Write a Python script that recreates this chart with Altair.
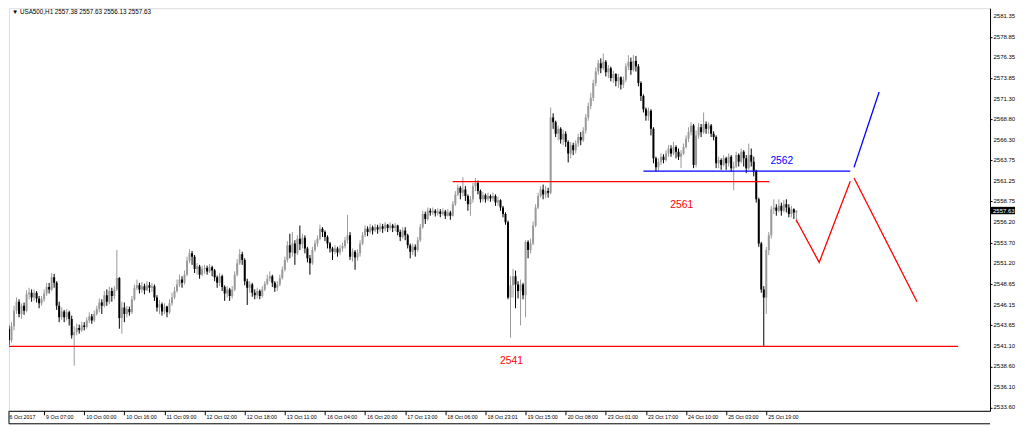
import json
import altair as alt
import pandas as pd

# ---------------- data ----------------
first_open = 2546.0
closes = [
    2542.0, 2543.2, 2541.8, 2543.5, 2545.4, 2546.5, 2545.0, 2546.0, 2545.4, 2547.4,
    2547.6, 2547.0, 2547.6, 2546.9, 2546.3, 2546.8, 2547.5, 2548.3, 2548.0, 2549.5,
    2548.8, 2546.0, 2544.6, 2545.3, 2544.6, 2545.2, 2544.4, 2542.4, 2542.8, 2543.3,
    2543.0, 2543.6, 2543.4, 2544.2, 2544.7, 2544.2, 2545.0, 2545.6, 2546.4, 2546.0,
    2547.3, 2546.5, 2547.8, 2547.2, 2548.0, 2549.4, 2544.5, 2545.8, 2545.0, 2545.6,
    2545.2, 2546.8, 2548.2, 2548.5, 2548.0, 2548.4, 2547.9, 2548.5, 2548.2, 2548.4,
    2547.0, 2545.8, 2546.2, 2545.3, 2545.9, 2545.2, 2546.3, 2547.0, 2547.8, 2548.6,
    2549.2, 2548.8, 2549.8, 2551.5, 2552.4, 2552.0, 2550.5, 2550.8, 2549.8, 2550.5,
    2550.6, 2550.2, 2550.7, 2550.3, 2549.5, 2548.8, 2549.6, 2548.3, 2547.5, 2548.0,
    2547.2, 2548.0, 2549.8, 2551.2, 2552.3, 2551.6, 2549.0, 2548.2, 2548.6, 2547.6,
    2547.3, 2547.8, 2547.2, 2548.0, 2548.7, 2549.3, 2549.6, 2548.8, 2548.2, 2548.6,
    2549.4, 2550.4, 2551.6, 2553.4, 2552.5, 2553.6, 2552.4, 2554.2, 2553.5, 2554.3,
    2553.0, 2551.8, 2551.2, 2552.8, 2553.6, 2554.2, 2555.4, 2555.0, 2554.4, 2553.6,
    2553.0, 2552.6, 2553.0, 2552.5, 2553.0, 2553.3, 2554.0, 2554.6, 2552.0, 2552.6,
    2551.9, 2552.4, 2553.6, 2554.6, 2555.4, 2555.0, 2555.6, 2555.2, 2555.6, 2555.3,
    2555.7, 2555.4, 2555.9, 2555.5, 2555.8, 2555.5, 2555.8, 2555.0, 2554.4, 2555.2,
    2554.6, 2553.4, 2552.6, 2553.2, 2552.8, 2554.0, 2555.6, 2557.2, 2556.6, 2557.6,
    2557.4, 2557.6, 2557.3, 2557.5, 2557.2, 2557.5, 2557.0, 2557.4, 2557.0, 2558.4,
    2559.6, 2560.4, 2559.8, 2560.2, 2559.4, 2558.4, 2559.0, 2560.6, 2561.0, 2560.0,
    2559.0, 2559.5, 2559.0, 2559.4, 2559.1, 2559.4, 2558.6, 2558.9, 2558.0, 2557.2,
    2556.2, 2547.0, 2548.5, 2549.6, 2548.6, 2547.8, 2548.6, 2547.3, 2553.8, 2552.8,
    2553.6, 2555.8, 2558.0, 2559.4, 2560.2, 2559.6, 2560.0, 2559.8, 2569.0, 2568.4,
    2567.0, 2567.6, 2566.3, 2567.0, 2566.0, 2564.6, 2565.6, 2565.0, 2565.8, 2566.6,
    2566.2, 2567.4, 2569.0, 2570.4, 2571.4, 2573.2, 2574.6, 2575.6, 2575.0, 2575.8,
    2574.5, 2575.0, 2573.8, 2574.3, 2573.4, 2573.9, 2573.0, 2573.6, 2575.2, 2575.8,
    2574.8, 2575.9, 2575.2, 2573.2, 2571.6, 2570.0, 2569.2, 2569.8, 2567.6, 2564.0,
    2562.9, 2563.6, 2564.2, 2563.8, 2564.6, 2565.2, 2564.6, 2565.4, 2564.8, 2564.2,
    2564.6, 2565.4, 2566.4, 2567.2, 2568.0, 2563.2, 2566.8, 2567.8, 2567.2, 2568.2,
    2567.6, 2568.0, 2567.0, 2566.6, 2563.4, 2563.8, 2563.2, 2564.0, 2563.4, 2564.2,
    2562.8, 2563.0, 2564.4, 2563.6, 2564.8, 2564.0, 2562.8, 2564.4, 2563.6, 2562.5,
    2559.0, 2553.6, 2548.0, 2547.0, 2552.8, 2554.6, 2557.8, 2558.0, 2557.6, 2558.2,
    2557.6, 2558.4, 2558.0, 2557.2, 2557.8, 2557.38, 2557.63,
]
highs = [
    2546.7, 2544.2, 2543.6, 2544.0, 2546.0, 2547.0, 2546.8, 2546.3, 2546.4, 2547.9,
    2548.2, 2548.0, 2548.0, 2547.8, 2547.2, 2547.2, 2548.0, 2548.8, 2548.8, 2550.0,
    2549.9, 2549.0, 2546.5, 2545.8, 2545.5, 2545.6, 2545.4, 2544.8, 2543.5, 2543.8,
    2543.7, 2544.0, 2544.0, 2544.6, 2545.2, 2545.0, 2545.4, 2546.0, 2546.9, 2546.8,
    2547.8, 2548.0, 2548.3, 2548.2, 2548.4, 2552.8, 2549.5, 2546.5, 2546.4, 2546.0,
    2545.9, 2547.2, 2548.6, 2549.2, 2548.8, 2548.9, 2548.7, 2549.0, 2548.9, 2548.8,
    2548.6, 2547.3, 2546.7, 2546.4, 2546.3, 2546.0, 2546.8, 2547.6, 2548.3, 2549.2,
    2549.8, 2549.6, 2550.3, 2552.0, 2552.9, 2552.7, 2552.2, 2551.2, 2551.0, 2550.9,
    2551.0, 2550.9, 2551.1, 2550.9, 2550.5, 2549.7, 2550.0, 2549.8, 2548.5, 2548.4,
    2548.2, 2548.4, 2550.2, 2551.7, 2552.9, 2552.6, 2551.8, 2549.3, 2549.0, 2548.8,
    2548.0, 2548.2, 2548.0, 2548.4, 2549.0, 2549.8, 2550.2, 2549.8, 2549.0, 2549.0,
    2549.8, 2550.8, 2552.0, 2553.9, 2554.8, 2555.0, 2554.0, 2554.6, 2555.8, 2554.8,
    2554.6, 2553.2, 2552.2, 2553.2, 2554.0, 2554.6, 2555.9, 2555.6, 2555.2, 2554.6,
    2553.8, 2553.2, 2553.4, 2553.2, 2553.4, 2553.7, 2554.4, 2557.1, 2555.0, 2553.0,
    2552.8, 2552.9, 2554.0, 2555.0, 2555.8, 2555.7, 2556.0, 2555.8, 2556.0, 2555.9,
    2556.1, 2556.0, 2556.2, 2556.0, 2556.2, 2556.0, 2556.1, 2555.9, 2555.3, 2555.6,
    2555.6, 2554.8, 2553.6, 2553.6, 2553.5, 2554.4, 2556.0, 2557.6, 2557.5, 2558.0,
    2557.9, 2558.0, 2557.8, 2557.9, 2557.8, 2557.9, 2557.7, 2557.8, 2557.6, 2558.8,
    2560.0, 2560.8, 2560.6, 2561.7, 2560.6, 2559.6, 2559.4, 2561.0, 2561.6, 2561.3,
    2560.2, 2559.9, 2559.7, 2559.8, 2559.6, 2559.8, 2559.6, 2559.3, 2559.0, 2558.2,
    2557.4, 2556.4, 2549.6, 2550.5, 2550.3, 2549.0, 2549.2, 2548.8, 2554.0, 2554.0,
    2554.2, 2556.3, 2558.4, 2559.8, 2560.6, 2560.8, 2560.6, 2560.4, 2570.2, 2569.5,
    2568.6, 2568.0, 2567.8, 2567.5, 2567.3, 2566.2, 2566.0, 2565.9, 2566.2, 2567.0,
    2567.2, 2567.8, 2569.4, 2570.8, 2572.0, 2573.6, 2575.1, 2576.0, 2576.2, 2576.8,
    2576.0, 2575.4, 2575.2, 2574.7, 2574.4, 2574.3, 2574.0, 2574.0, 2575.6, 2576.6,
    2576.3, 2576.6, 2576.5, 2575.5, 2573.4, 2571.8, 2570.2, 2570.2, 2570.0, 2567.8,
    2564.2, 2564.0, 2564.6, 2564.5, 2565.0, 2565.6, 2565.6, 2566.0, 2565.6, 2565.2,
    2565.0, 2565.8, 2566.8, 2567.8, 2568.4, 2568.2, 2567.4, 2568.3, 2568.2, 2569.6,
    2568.5, 2568.4, 2568.2, 2567.3, 2566.8, 2564.2, 2564.0, 2564.4, 2564.2, 2564.6,
    2564.4, 2563.6, 2564.8, 2564.6, 2565.2, 2565.0, 2564.4, 2565.8, 2565.2, 2564.2,
    2562.6, 2559.2, 2553.8, 2548.4, 2553.2, 2555.0, 2558.2, 2559.0, 2558.4, 2559.0,
    2558.6, 2558.9, 2559.0, 2558.4, 2558.2, 2557.9, 2557.63,
]
lows = [
    2541.3, 2541.4, 2541.2, 2541.5, 2543.0, 2545.0, 2544.6, 2544.4, 2544.9, 2545.2,
    2546.8, 2546.5, 2546.6, 2546.4, 2545.7, 2546.0, 2546.5, 2547.2, 2547.5, 2547.8,
    2548.2, 2545.5, 2544.0, 2544.3, 2544.0, 2544.2, 2543.6, 2542.0, 2538.7, 2542.4,
    2542.6, 2542.8, 2543.0, 2543.2, 2543.9, 2543.8, 2544.0, 2544.8, 2545.2, 2545.0,
    2545.8, 2546.0, 2546.2, 2546.5, 2546.8, 2547.8, 2543.2, 2542.6, 2544.0, 2544.6,
    2544.8, 2545.0, 2546.6, 2547.9, 2547.5, 2547.6, 2547.4, 2547.8, 2547.6, 2547.7,
    2546.6, 2545.3, 2545.0, 2544.8, 2545.0, 2544.6, 2545.0, 2546.0, 2546.8, 2547.6,
    2548.3, 2548.2, 2548.6, 2549.6, 2551.2, 2551.0, 2550.0, 2549.8, 2549.3, 2549.6,
    2549.9, 2549.8, 2550.0, 2549.6, 2549.0, 2548.2, 2548.4, 2547.8, 2546.6, 2547.0,
    2546.6, 2546.9, 2547.8, 2549.6, 2551.0, 2551.0, 2548.5, 2546.1, 2547.6, 2547.1,
    2546.8, 2546.9, 2546.8, 2547.0, 2547.8, 2548.5, 2549.0, 2548.3, 2547.7, 2547.8,
    2548.4, 2549.2, 2550.2, 2551.3, 2551.8, 2552.0, 2551.0, 2552.2, 2552.8, 2553.0,
    2552.4, 2551.3, 2549.8, 2551.0, 2552.6, 2553.2, 2554.0, 2554.4, 2553.9, 2553.0,
    2552.5, 2551.6, 2552.3, 2552.0, 2552.2, 2552.6, 2553.0, 2553.6, 2551.6, 2551.4,
    2550.4, 2551.5, 2552.0, 2553.4, 2554.4, 2554.5, 2554.8, 2554.7, 2555.0, 2554.8,
    2555.0, 2554.9, 2555.1, 2555.0, 2555.2, 2555.0, 2555.1, 2554.6, 2553.9, 2554.2,
    2554.0, 2553.0, 2551.8, 2552.2, 2552.0, 2552.6, 2553.8, 2555.4, 2556.0, 2556.4,
    2557.0, 2557.1, 2556.9, 2557.0, 2556.8, 2557.0, 2556.6, 2556.9, 2556.5, 2556.9,
    2558.2, 2559.4, 2559.0, 2559.4, 2558.8, 2557.6, 2557.0, 2558.6, 2560.0, 2559.6,
    2558.6, 2558.7, 2558.6, 2558.8, 2558.7, 2558.8, 2558.2, 2558.2, 2557.6, 2556.8,
    2555.9, 2546.8, 2542.1, 2547.0, 2545.7, 2546.9, 2543.6, 2546.8, 2544.6, 2551.8,
    2552.4, 2553.4, 2555.6, 2557.8, 2559.2, 2559.0, 2559.2, 2559.2, 2559.6, 2567.6,
    2566.6, 2566.2, 2565.8, 2565.6, 2565.4, 2563.5, 2564.0, 2564.4, 2564.6, 2565.4,
    2565.6, 2566.0, 2567.0, 2568.6, 2570.0, 2571.0, 2572.8, 2574.2, 2574.4, 2574.8,
    2574.0, 2573.8, 2573.4, 2573.2, 2572.8, 2572.6, 2572.4, 2572.6, 2573.3, 2574.8,
    2574.2, 2574.6, 2574.6, 2572.8, 2571.0, 2569.6, 2568.6, 2568.6, 2566.8, 2563.4,
    2562.4, 2562.5, 2563.2, 2563.4, 2563.6, 2564.2, 2564.2, 2564.4, 2564.0, 2563.8,
    2562.8, 2564.4, 2565.2, 2566.0, 2566.8, 2562.8, 2562.9, 2566.4, 2566.6, 2567.0,
    2567.0, 2567.0, 2566.6, 2566.2, 2562.8, 2562.8, 2562.6, 2563.0, 2562.6, 2563.0,
    2562.4, 2560.1, 2562.8, 2563.0, 2563.4, 2563.0, 2562.2, 2562.6, 2563.0, 2561.8,
    2558.6, 2553.2, 2547.6, 2541.1, 2545.0, 2552.2, 2554.2, 2557.2, 2557.0, 2557.4,
    2557.0, 2557.4, 2557.4, 2556.8, 2556.8, 2556.6, 2556.13,
]

time_labels = [
    "6 Oct 2017", "9 Oct 07:00", "10 Oct 00:00", "10 Oct 16:00", "11 Oct 09:00",
    "12 Oct 02:00", "12 Oct 18:00", "13 Oct 11:00", "16 Oct 04:00", "16 Oct 20:00",
    "17 Oct 13:00", "18 Oct 06:00", "18 Oct 23:01", "19 Oct 15:00", "20 Oct 08:00",
    "23 Oct 01:00", "23 Oct 17:00", "24 Oct 10:00", "25 Oct 03:00", "25 Oct 19:00",
]
time_label_bars = [16 * k for k in range(len(time_labels))]

price_ticks = [
    2581.35, 2578.85, 2576.35, 2573.85, 2571.30, 2568.80, 2566.30, 2563.75,
    2561.25, 2558.75, 2556.20, 2553.70, 2551.20, 2548.65, 2546.15, 2543.65,
    2541.10, 2538.60, 2536.10, 2533.60,
]

header_text = "\u25bc  USA500,H1  2557.38 2557.63 2556.13 2557.63"
last_price = 2557.63

# drawn analysis objects (bar index, price)
support_2541 = [(0.0, 2541.05), (380.5, 2541.05)]
level_2561 = [(178.9, 2561.15), (305.2, 2561.15)]
level_2562 = [(255.0, 2562.45), (337.5, 2562.45)]
blue_up = [(339.0, 2562.9), (349.0, 2572.1)]
red_zigzag = [(315.9, 2556.5), (325.1, 2551.3), (337.5, 2561.2)]
red_down = [(339.0, 2561.6), (364.1, 2546.5)]
annotations = [("2562", 310.2, 2563.66, "#0000ff"),
               ("2561", 270.3, 2558.3, "#ff0000"),
               ("2541", 202.4, 2539.27, "#ff0000")]

# ---------------- tables ----------------
opens = [first_open] + closes[:-1]
df = pd.DataFrame({"i": list(range(len(closes))), "open": opens, "high": highs,
                   "low": lows, "close": closes})
df["high"] = df[["high", "open", "close"]].max(axis=1)
df["low"] = df[["low", "open", "close"]].min(axis=1)
df["dir"] = ["up" if c >= o else "down" for o, c in zip(df["open"], df["close"])]

rows = []
for name, color, pts in [("s2541", "#ff0000", support_2541), ("l2561", "#ff0000", level_2561),
                         ("l2562", "#0000ff", level_2562), ("bup", "#0000ff", blue_up),
                         ("rzz", "#ff0000", red_zigzag), ("rdn", "#ff0000", red_down)]:
    for k, (xi, p) in enumerate(pts):
        rows.append({"seg": name, "color": color, "ord": k, "i": xi, "price": p})
lines_df = pd.DataFrame(rows)
ann_df = pd.DataFrame(annotations, columns=["text", "i", "price", "color"])
ticks_df = pd.DataFrame({"price": price_ticks,
                         "label": [f"{v:.2f}" for v in price_ticks]})

W, H = 982, 403
PX_PER_BAR = 2.51
x0 = 5 / PX_PER_BAR          # page x of bar i = 3 + 2.51 * i (plot starts at page x 8)
x_scale = alt.Scale(domain=[x0, x0 + W / PX_PER_BAR], nice=False, zero=False, padding=0)
y_scale = alt.Scale(domain=[2533.18, 2582.33], nice=False, zero=False, padding=0)

label_expr = json.dumps(time_labels) + "[round(datum.value/16)]"
x_axis = alt.Axis(values=time_label_bars[1:], labelExpr=label_expr, labelAlign="left",
                  labelBaseline="top", labelFontSize=5.3, labelFont="Liberation Sans",
                  labelColor="#000000", tickColor="#000000", tickSize=4, labelPadding=0,
                  labelOffset=1.5, domainColor="#000000", grid=False, labelFlush=False,
                  labelOverlap=False, title=None)
y_axis = alt.Axis(orient="right", values=price_ticks, labels=False,
                  tickColor="#000000", tickSize=2, domainColor="#000000", grid=False,
                  title=None)


def X(field):
    return alt.X(field, scale=x_scale, axis=x_axis)


def Y(field):
    return alt.Y(field, scale=y_scale, axis=y_axis)


color_scale = alt.Scale(domain=["up", "down"], range=["#9a9a9a", "#000000"])

wicks = alt.Chart(df).mark_rule(strokeWidth=1, clip=True).encode(
    x=X("i:Q"), y=Y("low:Q"), y2="high:Q",
    color=alt.Color("dir:N", scale=color_scale, legend=None),
)
bodies = alt.Chart(df).mark_bar(size=2, clip=True).encode(
    x=X("i:Q"), y=Y("open:Q"), y2="close:Q",
    color=alt.Color("dir:N", scale=color_scale, legend=None),
)
lines = alt.Chart(lines_df).mark_line(strokeWidth=1.3, clip=True).encode(
    x=X("i:Q"), y=Y("price:Q"),
    color=alt.Color("color:N", scale=None),
    detail="seg:N",
    order="ord:Q",
)
ann = alt.Chart(ann_df).mark_text(font="Liberation Sans", fontSize=10.3).encode(
    x=X("i:Q"), y=Y("price:Q"),
    text="text:N",
    color=alt.Color("color:N", scale=None),
)
price_labels = alt.Chart(ticks_df).mark_text(
    align="left", baseline="middle", font="Liberation Sans", fontSize=6.0,
    color="#000000").encode(x=alt.value(W + 3.5), y=Y("price:Q"), text="label:N")

one = pd.DataFrame({"v": [last_price]})
first_label = alt.Chart(one).mark_text(align="left", baseline="top", font="Liberation Sans",
                                       fontSize=5.3, color="#000000").encode(
    x=alt.value(0.5), y=alt.value(H + 4), text=alt.value(time_labels[0]))
header = alt.Chart(one).mark_text(align="left", baseline="top", font="Liberation Sans",
                                  fontSize=6.3, color="#000000").encode(
    x=alt.value(3), y=alt.value(1), text=alt.value(header_text))
price_box = alt.Chart(one).mark_rect(color="#000000").encode(
    x=alt.value(W + 1), x2=alt.value(W + 25),
    y=alt.datum(last_price + 0.45), y2=alt.datum(last_price - 0.45))
price_txt = alt.Chart(one).mark_text(align="left", baseline="middle", font="Liberation Sans",
                                     fontSize=6.0, color="#ffffff").encode(
    x=alt.value(W + 3), y=alt.datum(last_price), text=alt.value("2557.63"))
bottom_rule = alt.Chart(one).mark_rule(color="#000000", strokeWidth=1).encode(
    x=alt.value(0), x2=alt.value(W), y=alt.value(416))
left_rule = alt.Chart(one).mark_rule(color="#000000", strokeWidth=1).encode(
    x=alt.value(0), y=alt.value(H), y2=alt.value(416))

chart = alt.layer(wicks, bodies, lines, ann, price_labels, first_label, header, price_box,
                  price_txt, bottom_rule, left_rule).properties(
    width=W, height=H, padding=0
).configure_view(stroke="#000000", strokeWidth=1).configure(background="#ffffff")

chart.save("out.html", embed_options={"renderer": "svg", "actions": False})
